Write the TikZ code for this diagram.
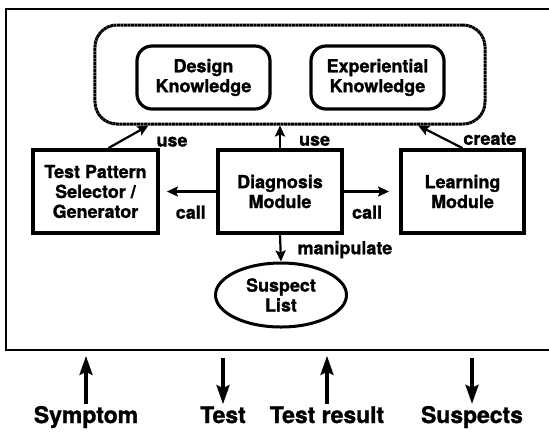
\documentclass[tikz,border=0pt]{standalone}
\usepackage{fontspec}
\setmainfont{TeX Gyre Heros}[BoldFeatures={FakeBold=1.3}]
\usetikzlibrary{arrows.meta, positioning, shapes.geometric, calc}
\newcommand{\modfont}{\bfseries\fontsize{18}{20}\selectfont}
\newcommand{\sigtextfont}{\bfseries\fontsize{23}{26}\selectfont}
\tikzset{
  sysframe/.style={
    draw, line width=1.8bp, inner sep=0pt,
    minimum width=559bp, minimum height=341bp,
  },
  kbgroup/.style={
    draw, line width=3bp, rounded corners=22bp,
    dash pattern=on 3bp off 0.5bp, inner sep=0pt,
    minimum width=390bp, minimum height=99bp,
  },
  knowbox/.style={
    draw, line width=3.2bp, rounded corners=15bp,
    minimum width=133bp, minimum height=63bp,
    align=center, font=\modfont,
  },
  modbox/.style={
    draw, line width=3.8bp,
    minimum width=124bp, minimum height=83bp,
    align=center, font=\modfont,
  },
  listnode/.style={
    ellipse, draw, line width=3bp, inner sep=0pt,
    minimum width=131bp, minimum height=64bp,
    align=center, font=\modfont,
  },
  link/.style={-{Stealth[length=11bp, width=10bp, inset=2bp]}, line width=2.2bp},
  lbl/.style={font=\modfont, inner sep=2bp},
  signal/.style={-{Stealth[length=19bp, width=13bp, inset=3bp]}, line width=3.2bp},
  sig/.style={font=\sigtextfont, inner sep=2bp},
}

\begin{document}
\begin{tikzpicture}[x=1bp, y=-1bp]

  \useasboundingbox (0,0) rectangle (549,431);

  % system boundary and the knowledge bases
  \node[sysframe] (sys) at (285.5,179.5) {};
  \node[kbgroup] (kb) at (290,74.5) {};
  \node[knowbox] (design) at (203.5,77.5) {Design \\ Knowledge};
  \node[knowbox] (exper) at (377.5,77.5) {Experiential \\ Knowledge};

  % modules
  \node[modbox] (diag) at (280,191.5) {Diagnosis \\ Module};
  \node[modbox, minimum width=125bp] (tps) at (95.5,191.5) {Test Pattern \\ Selector / \\ Generator};
  \node[modbox, minimum width=123bp] (learn) at (462.5,191.5) {Learning \\ Module};
  \node[listnode] (susp) at (281,295) {Suspect \\ List};

  \draw[link] ($(tps.north)!0.2!(tps.north east)$) --
    node[lbl, pos=0.55, anchor=west, xshift=23bp, yshift=-6bp] {use}
    ($(kb.south west)!0.14!(kb.south east)$);
  \draw[link] (diag.north) --
    node[lbl, anchor=west, xshift=16bp, yshift=-4bp] {use} (diag.north |- kb.south);
  \draw[link] (learn.north) --
    node[lbl, anchor=west, xshift=20bp, yshift=-2bp] {create}
    ($(kb.south west)!0.826!(kb.south east)$);
  \draw[link, shorten >=7bp] (diag.west) -- node[lbl, pos=0.45, below=11bp] {call} (tps.east);
  \draw[link, shorten >=10bp] (diag.east) -- node[lbl, pos=0.42, below=11bp] {call} (learn.west);
  \draw[link] (diag.south) -- node[lbl, pos=0.55, right=14bp] {manipulate} (susp.north);

  % signals across the boundary
  \node[sig, anchor=base] (sym) at (86,423) {Symptom};
  \node[sig, anchor=base] (tst) at (223,423) {Test};
  \node[sig, anchor=base] (res) at (327,423) {Test result};
  \node[sig, anchor=base] (sus) at (472,423) {Suspects};

  \draw[signal, shorten >=5bp] (sym.north) -- (sym.north |- sys.south);
  \draw[signal, shorten <=7bp] (tst.north |- sys.south) -- (tst.north);
  \draw[signal, shorten >=5bp] (res.north) -- (res.north |- sys.south);
  \draw[signal, shorten <=7bp] (sus.north |- sys.south) -- (sus.north);

\end{tikzpicture}
\end{document}
